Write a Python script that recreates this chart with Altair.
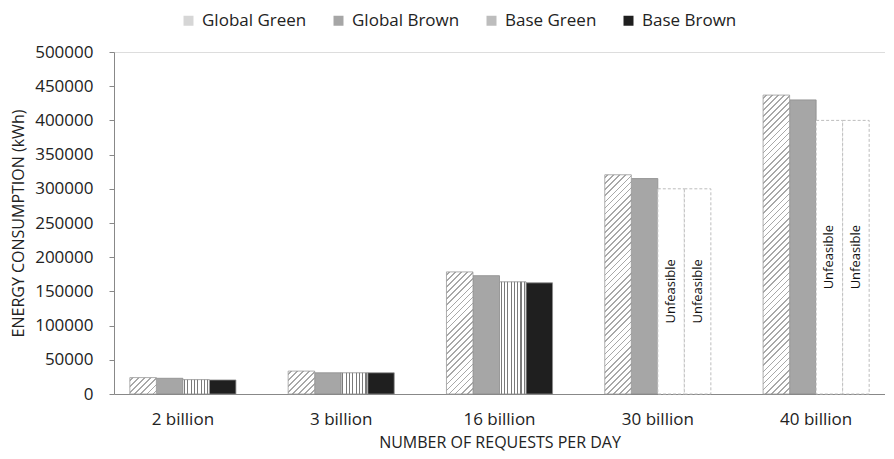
import math
import altair as alt
import pandas as pd

# ---- data ----
categories = ["2 billion", "3 billion", "16 billion", "30 billion", "40 billion"]
series = ["Global Green", "Global Brown", "Base Green", "Base Brown"]
global_green = [24000, 33500, 178500, 320500, 437000]
global_brown = [23000, 31000, 173000, 315000, 430000]
base_green = [21000, 31000, 164000, None, None]
base_brown = [20500, 31000, 162500, None, None]
unfeasible_level = [None, None, None, 300000, 400000]
unfeasible_label = "Unfeasible"

legend_colors = ["#d6d6d6", "#a6a6a6", "#bdbdbd", "#1f1f1f"]

# ---- layout / style ----
W, H = 771, 342
Y_MAX = 500000
P_INNER, P_OUTER = 0.33, 0.10
FONT = "Open Sans"

rows = []
for i, c in enumerate(categories):
    for s, vals in zip(series, [global_green, global_brown, base_green, base_brown]):
        if vals[i] is not None:
            rows.append({"category": c, "series": s, "value": vals[i]})
df = pd.DataFrame(rows)

unf_rows = []
for i, c in enumerate(categories):
    if unfeasible_level[i] is not None:
        for s in ["Base Green", "Base Brown"]:
            unf_rows.append({"category": c, "series": s, "value": unfeasible_level[i],
                             "label": unfeasible_label})
df_unf = pd.DataFrame(unf_rows)

step = W / (len(categories) - P_INNER + 2 * P_OUTER)
bar_w = step * (1 - P_INNER) / len(series)


def diag_gradient(w, h, period=4.3, lw=1.2, line="#a8a8a8", bg="#ffffff"):
    u, v = 1.0 / h, 1.0 / w
    s = (u + v) / (u * u + v * v)
    L = (w + h) / math.sqrt(2)
    stops = [{"offset": 0, "color": bg}]
    k = 0
    while True:
        a = (k * period + period / 2 - lw / 2) / L
        b = a + lw / L
        if a >= 1:
            break
        b = min(b, 1.0)
        stops += [{"offset": round(a, 5), "color": bg}, {"offset": round(a, 5), "color": line},
                  {"offset": round(b, 5), "color": line}, {"offset": round(b, 5), "color": bg}]
        k += 1
    stops.append({"offset": 1, "color": bg})
    return {"gradient": "linear", "x1": 0, "y1": 0, "x2": round(s * u, 6), "y2": round(s * v, 6),
            "stops": stops}


def vert_gradient(w, n=8, lw=1.1, line="#7a7a7a", bg="#ffffff"):
    period = w / n
    stops = [{"offset": 0, "color": bg}]
    for k in range(n):
        a = (k * period + period / 2 - lw / 2) / w
        b = a + lw / w
        stops += [{"offset": round(a, 5), "color": bg}, {"offset": round(a, 5), "color": line},
                  {"offset": round(b, 5), "color": line}, {"offset": round(b, 5), "color": bg}]
    stops.append({"offset": 1, "color": bg})
    return {"gradient": "linear", "x1": 0, "y1": 0, "x2": 1, "y2": 0, "stops": stops}


x_enc = alt.X("category:N", sort=categories,
              scale=alt.Scale(domain=categories, paddingInner=P_INNER, paddingOuter=P_OUTER),
              axis=alt.Axis(title="NUMBER OF REQUESTS PER DAY", labelAngle=0, ticks=False,
                            labelFontSize=17, labelPadding=17, titleFontSize=16,
                            titleFontWeight="normal", titlePadding=7, domainColor="#888888",
                            labelColor="#222222", titleColor="#222222", labelFont=FONT,
                            titleFont=FONT, grid=False))
xo_enc = alt.XOffset("series:N", sort=series, scale=alt.Scale(domain=series))
y_enc = alt.Y("value:Q", scale=alt.Scale(domain=[0, Y_MAX], nice=False),
              axis=alt.Axis(title="ENERGY CONSUMPTION (kWh)", values=list(range(0, Y_MAX + 1, 50000)),
                            format="d", labelFontSize=17, labelPadding=16, tickSize=5,
                            tickColor="#888888", domainColor="#888888", grid=False,
                            titleFontSize=16, titleFontWeight="normal", titlePadding=8,
                            labelColor="#222222", titleColor="#222222", labelFont=FONT,
                            titleFont=FONT))

base = alt.Chart(df).transform_filter(
    alt.FieldOneOfPredicate(field="series", oneOf=["Global Brown", "Base Brown"])
).mark_bar(stroke="#8c8c8c", strokeWidth=0.8).encode(
    x=x_enc, xOffset=xo_enc, y=y_enc,
    color=alt.Color("series:N", sort=series,
                    scale=alt.Scale(domain=series, range=legend_colors),
                    legend=alt.Legend(title=None, orient="none", direction="horizontal",
                                      columns=4, legendX=66, legendY=-40, symbolType="square",
                                      symbolSize=100, symbolStrokeWidth=0, labelFontSize=17,
                                      labelFont=FONT, labelColor="#222222", labelOffset=5,
                                      columnPadding=23, padding=0))
)

unf = alt.Chart(df_unf).mark_bar(fill="#ffffff", stroke="#bdbdbd", strokeWidth=1,
                                 strokeDash=[3, 2]).encode(x=x_enc, xOffset=xo_enc, y=y_enc)

unf_text = alt.Chart(df_unf).transform_calculate(value="datum.value / 2").mark_text(
    angle=270, fontSize=13, font=FONT, color="#111111", baseline="middle", align="center"
).encode(x=x_enc, xOffset=xo_enc, y=y_enc, text="label:N")

layers = [base, unf]
for i, c in enumerate(categories):
    h_px = global_green[i] / Y_MAX * H
    layers.append(
        alt.Chart(df).transform_filter(
            (alt.datum.category == c) & (alt.datum.series == "Global Green")
        ).mark_bar(fill=diag_gradient(bar_w, h_px), stroke="#9a9a9a", strokeWidth=0.8).encode(
            x=x_enc, xOffset=xo_enc, y=y_enc)
    )
layers.append(
    alt.Chart(df).transform_filter(alt.datum.series == "Base Green").mark_bar(
        fill=vert_gradient(bar_w), stroke="#8c8c8c", strokeWidth=0.8
    ).encode(x=x_enc, xOffset=xo_enc, y=y_enc)
)
layers.append(unf_text)

chart = alt.layer(*layers).properties(
    width=W, height=H, padding={"top": 4, "left": 2, "right": 0, "bottom": 4}
).configure_view(stroke=None).configure(font=FONT)

chart.save("out.html", embed_options={"renderer": "svg", "actions": False})
